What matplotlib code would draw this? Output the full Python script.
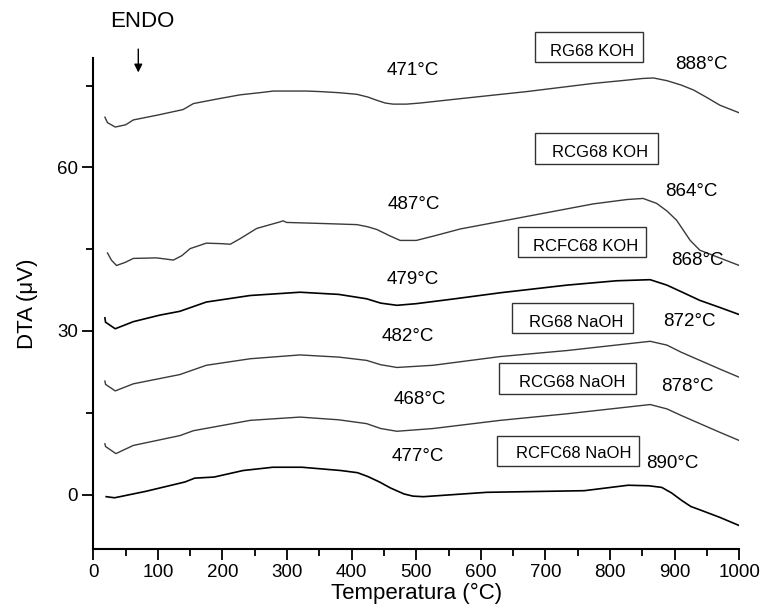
import matplotlib
matplotlib.use('Agg')
import matplotlib.pyplot as plt
from matplotlib.patches import Rectangle
from matplotlib.ticker import MultipleLocator

plt.rcParams['font.family'] = ['Liberation Sans', 'DejaVu Sans']

# DTA curves (temperature in °C, signal in µV)
t_rg_koh = [18, 22, 34, 50, 62, 100, 139, 155, 190, 227, 258, 279, 330, 351, 380, 408, 425, 439, 452, 464, 485, 506, 568, 671, 774, 826, 850, 867, 888, 910, 929, 950, 970, 1000]
v_rg_koh = [69.2, 68.2, 67.4, 67.8, 68.7, 69.6, 70.6, 71.7, 72.5, 73.3, 73.7, 74.0, 74.0, 73.9, 73.7, 73.4, 72.9, 72.3, 71.8, 71.6, 71.6, 71.8, 72.6, 73.9, 75.4, 76.0, 76.3, 76.4, 75.9, 75.1, 74.2, 72.8, 71.4, 70.0]

t_rcg_koh = [22, 28, 36, 50, 62, 98, 124, 137, 150, 175, 200, 212, 227, 253, 289, 294, 299, 356, 408, 425, 439, 458, 475, 500, 530, 568, 671, 774, 826, 851, 872, 888, 903, 924, 939, 965, 1000]
v_rcg_koh = [44.3, 43.0, 42.0, 42.6, 43.3, 43.4, 43.0, 43.8, 45.1, 46.1, 46.0, 45.9, 46.9, 48.8, 50.0, 50.2, 49.9, 49.7, 49.5, 49.1, 48.6, 47.5, 46.6, 46.6, 47.5, 48.7, 51.0, 53.3, 54.1, 54.3, 53.4, 52.0, 50.3, 46.6, 44.8, 43.6, 42.0]

t_rcfc_koh = [18, 19, 34, 62, 103, 134, 175, 243, 320, 380, 423, 445, 470, 500, 560, 630, 733, 810, 862, 888, 910, 939, 970, 1000]
v_rcfc_koh = [32.4, 31.6, 30.4, 31.7, 32.9, 33.6, 35.3, 36.5, 37.1, 36.7, 35.9, 35.1, 34.7, 35.0, 35.9, 37.0, 38.4, 39.2, 39.4, 38.4, 37.2, 35.6, 34.3, 33.0]

t_rg_naoh = [18, 19, 34, 62, 134, 175, 243, 320, 380, 423, 445, 470, 526, 630, 733, 862, 888, 910, 939, 970, 1000]
v_rg_naoh = [20.8, 20.2, 19.0, 20.3, 22.0, 23.7, 24.9, 25.6, 25.2, 24.6, 23.8, 23.3, 23.7, 25.3, 26.4, 28.1, 27.4, 26.1, 24.6, 23.0, 21.5]

t_rcg_naoh = [18, 19, 35, 62, 134, 155, 243, 320, 380, 423, 445, 470, 526, 630, 733, 862, 888, 910, 939, 970, 1000]
v_rcg_naoh = [9.3, 8.8, 7.5, 9.0, 10.8, 11.7, 13.6, 14.2, 13.7, 13.0, 12.1, 11.6, 12.1, 13.6, 14.8, 16.5, 15.7, 14.5, 13.0, 11.4, 9.9]

t_rcfc_naoh = [20, 33, 82, 142, 157, 187, 232, 278, 323, 383, 409, 425, 443, 460, 481, 495, 511, 609, 760, 828, 860, 880, 895, 911, 925, 941, 970, 1000]
v_rcfc_naoh = [-0.4, -0.6, 0.6, 2.3, 3.0, 3.2, 4.4, 5.0, 5.0, 4.4, 4.0, 3.3, 2.3, 1.2, 0.1, -0.3, -0.4, 0.4, 0.7, 1.7, 1.6, 1.3, 0.3, -1.1, -2.2, -2.9, -4.2, -5.7]

sample_names = ['RG68 KOH', 'RCG68 KOH', 'RCFC68 KOH', 'RG68 NaOH', 'RCG68 NaOH', 'RCFC68 NaOH']
low_peaks = ['471°C', '487°C', '479°C', '482°C', '468°C', '477°C']
high_peaks = ['888°C', '864°C', '868°C', '872°C', '878°C', '890°C']

fig = plt.figure(figsize=(7.62, 6.12), dpi=100)
ax = fig.add_axes([0.1224, 0.1029, 0.8478, 0.8018])

gray = '#3a3a3a'
ax.plot(t_rg_koh, v_rg_koh, color=gray, lw=1.0)
ax.plot(t_rcg_koh, v_rcg_koh, color=gray, lw=1.0)
ax.plot(t_rcfc_koh, v_rcfc_koh, color='black', lw=1.2)
ax.plot(t_rg_naoh, v_rg_naoh, color=gray, lw=1.0)
ax.plot(t_rcg_naoh, v_rcg_naoh, color=gray, lw=1.0)
ax.plot(t_rcfc_naoh, v_rcfc_naoh, color='black', lw=1.2)

ax.set_xlim(0, 1000)
ax.set_ylim(-10, 80)
ax.xaxis.set_major_locator(MultipleLocator(100))
ax.xaxis.set_minor_locator(MultipleLocator(50))
ax.yaxis.set_major_locator(MultipleLocator(30))
ax.yaxis.set_minor_locator(MultipleLocator(15))
ax.tick_params(which='major', direction='out', length=8, width=1.3, labelsize=13.5, pad=3)
ax.tick_params(which='minor', direction='out', length=5, width=1.3)
for side in ['top', 'right']:
    ax.spines[side].set_visible(False)
for side in ['left', 'bottom']:
    ax.spines[side].set_linewidth(1.5)

ax.set_xlabel('Temperatura (°C)', fontsize=16, labelpad=1)
ax.set_ylabel('DTA (μV)', fontsize=16, labelpad=14)

# boxed sample names: (left, right, bottom, top) and text centre
boxes = [(684, 851, 79.3, 84.9), (683, 874, 60.7, 66.3), (658, 856, 43.5, 49.1),
         (648, 835, 29.6, 35.2), (628, 840, 18.5, 24.2), (625, 845, 5.2, 10.8)]
name_pos = [(772, 81.2), (784, 62.8), (762, 45.5), (748, 31.6), (742, 20.5), (743, 7.5)]
low_pos = [(494, 77.7), (496, 53.2), (495, 39.5), (487, 29.0), (505, 17.4), (502, 6.9)]
high_pos = [(942, 78.9), (925, 55.6), (935, 43.0), (922, 31.8), (919, 19.8), (896, 5.7)]

for (x0, x1, y0, y1), (tx, ty), name in zip(boxes, name_pos, sample_names):
    ax.add_patch(Rectangle((x0, y0), x1 - x0, y1 - y0, fill=False, ec='#333333',
                           lw=1.0, clip_on=False))
    ax.text(tx, ty, name, ha='center', va='center', fontsize=12, clip_on=False)

for (tx, ty), lab in zip(low_pos, low_peaks):
    ax.text(tx, ty, lab, ha='center', va='center', fontsize=13.5)
for (tx, ty), lab in zip(high_pos, high_peaks):
    ax.text(tx, ty, lab, ha='center', va='center', fontsize=13.5, clip_on=False)

ax.text(76, 86.7, 'ENDO', ha='center', va='center', fontsize=16, clip_on=False)
ax.annotate('', xy=(69.7, 76.9), xytext=(69.7, 82.2),
            arrowprops=dict(arrowstyle='-|>', color='black', lw=1.0, mutation_scale=12),
            annotation_clip=False)

fig.savefig('out.png', dpi=100)
